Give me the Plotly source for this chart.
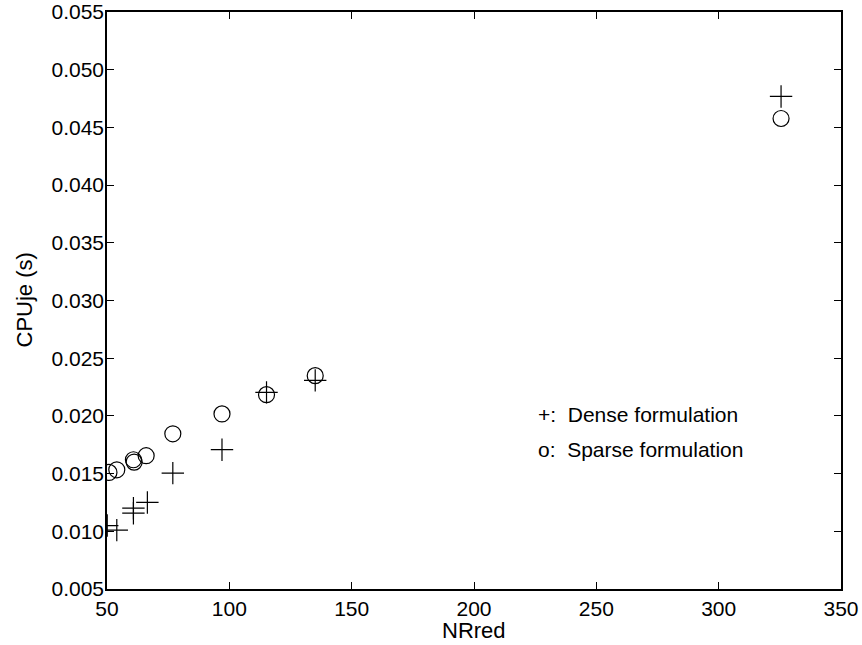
import plotly.graph_objects as go

# Dense formulation (+)
dense_x = [50.1, 54.0, 60.8, 60.8, 66.5, 76.9, 97.0, 115.2, 135.1, 325.5]
dense_y = [0.0105, 0.0101, 0.0120, 0.01157, 0.0125, 0.01504, 0.01707, 0.02204, 0.02308, 0.04768]

# Sparse formulation (o)
sparse_x = [50.8, 54.0, 60.8, 61.1, 66.0, 76.9, 97.0, 115.2, 135.1, 325.5]
sparse_y = [0.0151, 0.01533, 0.0162, 0.0160, 0.01655, 0.01845, 0.02017, 0.02184, 0.02349, 0.04577]

x_ticks = [50, 100, 150, 200, 250, 300, 350]
y_ticks = [0.005, 0.010, 0.015, 0.020, 0.025, 0.030, 0.035, 0.040, 0.045, 0.050, 0.055]
y_tick_text = ["%.3f" % v for v in y_ticks]

legend_lines = ["+:  Dense formulation", "o:  Sparse formulation"]
legend_x = 225.4
legend_y = [0.0201, 0.0171]

FONT = "Liberation Sans, Arial, Helvetica, sans-serif"
L, R, T, B = 107, 21, 12, 56
W, H = 862, 645
PW, PH = W - L - R, H - T - B

fig = go.Figure()
fig.add_trace(go.Scatter(
    x=dense_x, y=dense_y, mode="markers",
    marker=dict(symbol="cross-thin-open", size=16, color="black",
                line=dict(color="black", width=1.2)),
    showlegend=False, hoverinfo="x+y"))
fig.add_trace(go.Scatter(
    x=sparse_x, y=sparse_y, mode="markers",
    marker=dict(symbol="circle-open", size=16, color="black",
                line=dict(color="black", width=1.2)),
    showlegend=False, hoverinfo="x+y"))

for txt, yy in zip(legend_lines, legend_y):
    fig.add_annotation(x=legend_x, y=yy, xref="x", yref="y", text=txt,
                       showarrow=False, xanchor="left", yanchor="middle",
                       font=dict(family=FONT, size=21, color="black"))

# axis titles as annotations (positioned in paper coordinates)
fig.add_annotation(x=(24 - L) / PW, y=0.5, xref="paper", yref="paper", text="CPUje (s)",
                   textangle=-90, showarrow=False, xanchor="center", yanchor="middle",
                   font=dict(family=FONT, size=22, color="black"))
fig.add_annotation(x=0.5, y=-(630 - (T + PH)) / PH, xref="paper", yref="paper", text="NRred",
                   showarrow=False, xanchor="center", yanchor="middle",
                   font=dict(family=FONT, size=22, color="black"))

axis_common = dict(
    showgrid=False, zeroline=False, showline=True, linecolor="black",
    linewidth=1.5, mirror="ticks", ticks="inside", ticklen=7,
    tickcolor="black", tickwidth=1, automargin=False, ticklabeloverflow="allow",
    tickfont=dict(family=FONT, size=21, color="black"),
)

fig.update_layout(
    width=W, height=H,
    paper_bgcolor="white", plot_bgcolor="white",
    margin=dict(l=L, r=R, t=T, b=B),
    font=dict(family=FONT, color="black"),
    xaxis=dict(range=[50, 350], tickvals=x_ticks, ticktext=[str(v) for v in x_ticks],
               ticklabelstandoff=0, **axis_common),
    yaxis=dict(range=[0.005, 0.055], tickvals=y_ticks, ticktext=y_tick_text,
               ticklabelstandoff=-3, **axis_common),
)

fig.write_html("out.html", config={"displayModeBar": False},
               post_script="document.body.style.margin='0';document.body.style.overflow='hidden';")
